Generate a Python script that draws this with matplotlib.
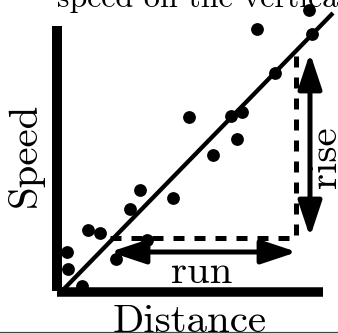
import matplotlib
matplotlib.use("Agg")
import matplotlib.pyplot as plt

# Data (distance, speed) in arbitrary units
distance = [25.2, 20.0, 25.5, 21.8, 13.2, 18.5, 17.4, 18.0, 15.6, 11.6,
            8.3, 7.3, 3.1, 4.3, 9.0, 1.0, 5.9, 1.1, 2.5]
speed = [28.2, 26.3, 25.8, 21.9, 17.5, 18.0, 17.6, 15.3, 13.7, 9.4,
         10.2, 8.3, 6.2, 5.9, 5.2, 4.0, 3.3, 2.3, 0.6]

fit_x = [0.3, 27.6]
fit_y = [-0.1, 27.9]

run_x = [5.3, 24.0]
run_y = 5.4
rise_x = 23.9
rise_y = [5.4, 23.9]

FONT = "cmr10"

fig = plt.figure(figsize=(3.38, 3.33), dpi=100)
ax = fig.add_axes([0, 0, 1, 1])
ax.set_xlim(-5.7, 28.1)
ax.set_ylim(-4.1, 29.2)
ax.axis("off")

px = 72 / 100  # points per pixel

# axis bars
ax.plot([0.05, 0.05], [0.1, 26.6], color="black", lw=10 * px, solid_capstyle="butt")
ax.plot([0, 26.6], [0, 0], color="black", lw=9.5 * px, solid_capstyle="butt")

# fit line
ax.plot(fit_x, fit_y, color="black", lw=4.3 * px, solid_capstyle="butt")

# points
ax.scatter(distance, speed, s=(12.8 * px) ** 2, color="black", zorder=3, linewidths=0)

# dashed run/rise guide
dlw = 5 * px
ax.plot([run_x[0], rise_x, rise_x], [run_y, run_y, rise_y[1]], color="black",
        lw=dlw, linestyle=(0, (11 * px / dlw, 10 * px / dlw)), solid_capstyle="butt",
        dash_capstyle="butt", solid_joinstyle="miter")

# arrows
astyle = "<|-|>,head_length=1.5,head_width=0.5"
ax.annotate("", xy=(24.0, 4.0), xytext=(5.3, 4.0),
            arrowprops=dict(arrowstyle=astyle, color="black", lw=5 * px,
                            mutation_scale=14.4, shrinkA=0, shrinkB=0))
ax.annotate("", xy=(25.3, 23.9), xytext=(25.3, 5.5),
            arrowprops=dict(arrowstyle=astyle, color="black", lw=5 * px,
                            mutation_scale=14.4, shrinkA=0, shrinkB=0))

fs = 29.5
ax.text(14.5, 0.9, "run", fontfamily=FONT, fontsize=fs, ha="center", va="baseline")
ax.text(27.9, 13.5, "rise", fontfamily=FONT, fontsize=fs, ha="center", va="baseline",
        rotation=90, rotation_mode="anchor")
ax.text(-2.1, 13.7, "Speed", fontfamily=FONT, fontsize=fs, ha="center", va="baseline",
        rotation=90, rotation_mode="anchor")
ax.text(13.25, -4.0, "Distance", fontfamily=FONT, fontsize=fs, ha="center", va="baseline")
ax.text(0.0, 28.45, "speed on the vertical axis", fontfamily=FONT, fontsize=23,
        ha="left", va="baseline")

# bottom rule
ax.axhline(-3.97, color="#444444", lw=1.2 * px)

fig.savefig("out.png", dpi=100)
